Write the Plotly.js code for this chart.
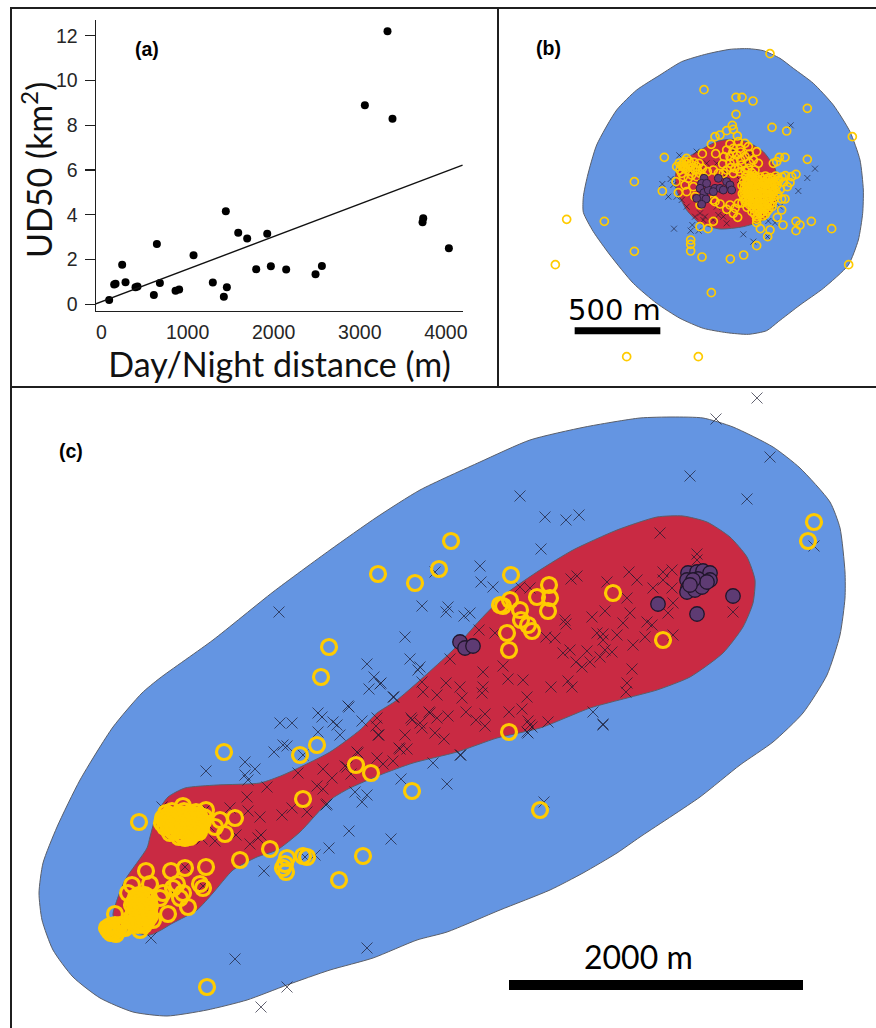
<!DOCTYPE html>
<html>
<head>
<meta charset="utf-8">
<script src="https://cdn.plot.ly/plotly-3.0.1.min.js"></script>
<style>html,body{margin:0;padding:0;background:#fff}#chart{width:876px;height:1028px}</style>
</head>
<body>
<div id="chart"></div>
<script>
// Panel (a): day/night distance (m) vs UD50 (km2)
const distance = [89,147,163,240,279,395,418,608,643,678,860,902,1069,1293,1421,1444,1456,1588,1692,1797,1925,1967,2145,2486,2560,3059,3322,3380,3737,3729,4035];
const ud50 = [0.19,0.89,0.92,1.77,0.98,0.76,0.79,0.42,2.70,0.95,0.60,0.66,2.19,0.97,0.34,4.16,0.76,3.2,2.94,1.57,3.15,1.70,1.55,1.34,1.71,8.9,12.21,8.3,3.85,3.67,2.5];
const fitX = [-66,4194];
const fitY = [0.02,6.22];
const xTicks = [0,1000,2000,3000,4000];
const yTicks = [0,2,4,6,8,10,12];

// Panel (b): map coordinates
const bBlue = [[480,225],[410,270],[350,330],[290,435],[262,530],[250,590],[250,637],[280,695],[330,765],[400,850],[470,910],[540,955],[610,985],[680,998],[745,1003],[800,992],[835,965],[900,915],[970,865],[1045,795],[1075,720],[1088,640],[1090,570],[1080,480],[1050,395],[1000,315],[940,250],[880,205],[840,175],[790,152],[745,146],[690,148],[620,162],[545,185],[480,225]];
const bRed = [[690,418],[740,425],[790,455],[825,505],[835,560],[825,620],[790,660],[730,680],[660,687],[600,670],[560,630],[530,570],[527,520],[560,475],[610,445],[650,425],[690,418]];
const bCross = [[872,376],[945,506],[922,534],[895,573],[522,686],[572,692],[596,692],[577,675],[730,703],[760,725],[805,663],[825,668],[803,710],[487,552],[512,537],[505,590],[538,466],[590,455],[545,600],[560,620],[585,650],[615,650],[640,660],[680,670],[670,650],[600,640],[650,620],[620,490],[600,500],[580,510],[565,510],[650,490],[700,450],[740,490],[750,460],[780,570],[785,600],[820,610],[840,620],[720,540],[680,520],[690,630],[520,555],[530,590],[610,660],[655,645]];
const bYellow = [[810,161],[612,269],[708,292],[726,292],[759,303],[922,325],[708,343],[816,382],[860,393],[1057,410],[697,376],[700,388],[680,392],[712,408],[660,405],[645,410],[493,472],[403,545],[487,573],[200,658],[313,664],[403,754],[166,794],[380,1070],[595,1070],[634,878],[606,771],[572,720],[572,733],[572,753],[691,777],[731,765],[770,737],[803,710],[810,690],[781,686],[770,668],[849,675],[888,664],[900,675],[888,692],[934,664],[995,686],[1046,794],[922,478],[855,472],[838,472],[830,485],[820,490],[888,523],[875,530],[870,548],[862,560],[855,597],[845,597],[845,630],[832,652],[600,680],[624,686],[640,664],[713,652],[647,461],[607,461],[634,433],
[690,432],[715,425],[735,430],[745,440],[770,455],[680,450],[700,445],[720,445],[690,470],[710,465],[735,470],[760,480],[775,490],[690,490],[705,505],[725,495],[745,505],[765,510],[680,510],[700,520],[720,515],[740,525],[755,530],
[698,458],[722,456],[748,462],[702,482],[722,480],[748,488],[692,503],[716,506],[735,512],[755,518],[672,470],[668,492],
[530,500],[545,495],[560,490],[575,495],[590,500],[540,510],[555,505],[570,515],[585,510],[560,475],[600,520],[550,530],[528,545],[555,555],[535,578],[560,575],[580,560],[585,590],[600,615],[645,605],[660,612],[680,628],[610,530],[640,510],[670,520],
[538,489],[552,484],[567,483],[582,487],[597,490],[548,500],[563,498],[578,503],[592,510],[607,505],[622,515],[575,525],[590,530],[565,535],[545,520],[655,520],[640,600],[690,615],[705,625],[715,610],[700,640],
[737,529],[752,533],[764,527],[781,531],[796,528],[811,533],[827,528],[846,531],[856,527],[731,544],[746,541],[761,545],[774,542],[791,546],[806,541],[821,545],[836,542],[851,546],[726,557],[741,554],[756,558],[769,555],[786,559],[801,554],[816,558],[831,556],[736,570],[749,567],[766,571],[779,568],[796,570],[809,568],[826,571],[841,568],[727,581],[741,584],[756,580],[773,584],[786,581],[803,584],[816,581],[833,583],[736,596],[749,593],[766,597],[779,594],[796,596],[811,593],[824,596],[726,609],[743,606],[757,610],[774,607],[787,610],[804,607],[817,609],[741,622],[756,619],[769,623],[786,620],[799,622],[816,620],[756,635],[771,632],[789,636],[802,633],[771,651],[789,648],[770,658],
[744,536],[758,538],[772,536],[788,538],[803,535],[819,537],[834,535],[738,550],[753,550],[764,550],[778,549],[794,552],[809,549],[824,552],[733,563],[744,561],[759,564],[772,562],[789,564],[804,561],[819,564],[732,576],[743,575],[759,575],[771,576],[789,575],[802,577],[819,576],[731,590],[745,589],[760,589],[770,590],[790,588],[806,590],[820,589],[735,603],[747,600],[761,603],[771,601],[791,603],[807,600],[748,614],[763,615],[778,613],[793,615],[809,613],[762,627],[778,627],[792,628],[807,627],[764,642],[780,641],[796,643]];
const bPurple = [[612,535],[605,550],[600,565],[612,578],[605,595],[618,597],[590,595],[605,613],[625,570],[645,565],[660,565],[680,545],[655,535],[690,555],[695,570],[670,570],[640,575],[620,550]];

// Panel (c): map coordinates
const cBlue = [[273,592],[330,550],[377,517],[420,490],[480,462],[530,440],[585,427],[640,418],[673,417],[703,418],[733,427],[773,447],[800,468],[830,502],[840,528],[845,572],[845,598],[840,635],[827,675],[803,713],[773,742],[740,765],[700,797],[640,837],[617,853],[583,873],[550,890],[500,910],[447,932],[417,940],[373,958],[330,970],[287,985],[247,1000],[207,1010],[167,1016],[133,1012],[100,998],[73,977],[53,950],[42,920],[39,893],[43,863],[57,827],[80,780],[113,727],[142,693],[160,678],[213,640],[273,592]];
const cRed = [[573,550],[617,530],[657,517],[683,516],[707,522],[730,537],[747,557],[755,580],[753,603],[743,627],[723,653],[690,677],[657,690],[627,698],[590,708],[540,728],[497,738],[457,752],[413,763],[380,775],[348,789],[330,800],[300,832],[277,850],[257,857],[233,870],[213,893],[197,910],[173,923],[150,935],[120,927],[113,915],[117,900],[125,880],[147,848],[150,837],[157,813],[168,797],[185,788],[217,785],[260,783],[283,775],[330,752],[360,730],[377,713],[397,700],[453,650],[480,620],[507,593],[540,570],[573,550]];
const cCross = [[520,496],[545,517],[566,520],[579,515],[747,499],[541,549],[660,533],[697,554],[480,566],[435,572],[481,582],[493,587],[422,606],[448,607],[446,612],[464,616],[470,613],[405,637],[410,659],[367,664],[420,667],[418,670],[374,677],[381,683],[369,689],[393,697],[349,707],[362,721],[279,612],
[479,630],[495,633],[450,659],[503,666],[483,672],[422,682],[423,692],[446,683],[460,687],[462,698],[437,695],[483,687],[482,693],[508,679],[523,680],[527,697],[551,687],[568,681],[572,687],[627,683],[626,692],[632,669],[582,667],[576,662],[563,653],[570,650],[587,651],[590,662],[600,657],[605,650],[612,652],[603,640],[597,633],[603,634],[617,635],[623,623],[630,613],[633,645],[645,637],[652,625],[647,622],[668,613],[673,603],[673,635],[592,617],[605,611],[565,620],[566,624],[546,637],[555,638],[520,587],[530,588],[571,579],[577,576],[607,582],[629,572],[637,580],[653,588],[663,572],[672,570],[663,580],[672,588],[627,598],[697,560],[733,612],[593,712],[603,724],[548,722],[528,721],[532,727],[528,733],[509,712],[522,709],[485,714],[485,726],[476,720],[466,712],[448,716],[437,718],[429,712],[411,718],[420,723],[435,733],[444,739],[405,735],[379,735],[377,718],[376,726],[399,748],[407,749],[393,761],[377,758],[433,763],[461,755],[357,752],[347,767],
[380,684],[394,697],[348,706],[318,713],[322,717],[333,722],[337,725],[280,723],[292,723],[318,732],[340,735],[283,745],[287,746],[274,752],[303,755],[245,762],[255,769],[245,775],[248,780],[206,771],[378,735],[412,720],[422,728],[430,713],[358,753],[400,749],[345,766],[323,769],[298,773],[332,778],[267,787],[247,797],[317,786],[323,789],[351,774],[401,779],[355,792],[367,795],[362,802],[327,804],[292,808],[282,815],[307,812],[230,808],[248,811],[260,817],[349,831],[391,839],[329,848],[315,855],[305,857],[264,871],[261,835],[258,838],[250,844],[236,835],[215,841],[202,839],[172,834],[209,826],[206,809],[203,812],[162,807],[185,867],[203,886],[173,892],[133,926],[151,938],[235,959],[287,987],[261,1007],[367,948],
[544,802],[603,725],[460,755],[447,784],[326,805],[383,764],[527,732],[530,725],
[757,398],[716,419],[770,457],[690,476],[814,546]];
const cYellow = [[224,752],[139,822],[207,987],[303,799],[300,755],[317,745],[356,765],[371,773],[412,791],[363,856],[339,880],[270,849],[240,860],[287,858],[285,864],[286,872],[283,868],[303,856],[307,857],
[329,647],[321,677],[378,574],[415,583],[451,541],[439,569],[511,575],[503,606],[510,600],[500,605],[520,610],[521,620],[532,631],[528,625],[507,633],[509,650],[537,597],[549,585],[550,598],[548,611],[613,593],[663,640],[509,732],[540,810],[808,541],[814,522],
[235,818],[220,820],[225,834],[215,827],[206,810],[183,806],
[166,813],[172,811],[178,814],[184,811],[190,813],[196,812],[163,818],[168,817],[174,819],[180,816],[186,819],[192,817],[198,819],[204,817],[162,823],[167,822],[173,824],[179,821],[185,824],[191,822],[197,824],[203,822],[165,827],[171,829],[177,826],[183,829],[189,827],[195,829],[201,827],[170,833],[175,831],[181,834],[187,832],[193,834],[199,832],[179,837],[185,838],[190,837],
[169,815],[175,816],[181,814],[187,815],[193,815],[199,815],[165,820],[171,821],[177,822],[183,819],[189,821],[195,820],[201,820],[168,825],[174,826],[180,825],[186,826],[192,825],[198,826],[173,831],[179,830],[185,830],[191,830],[197,831],[182,835],[188,835],
[146,871],[171,871],[185,868],[206,867],[150,884],[200,884],[203,888],[177,884],[163,893],[183,893],[188,907],[168,914],[132,885],[128,893],[115,914],[160,898],[173,888],[180,898],[153,920],[140,930],
[136,897],[142,898],[148,897],[134,902],[140,904],[146,903],[135,908],[141,909],[147,908],[134,914],[140,915],[146,914],[136,920],[142,921],[148,919],[138,925],[144,925],[110,926],[115,925],[109,931],[114,931],[118,929],[113,933],[120,925],[125,928],
[139,895],[145,895],[137,900],[143,901],[149,900],[132,905],[138,906],[144,906],[150,906],[137,911],[143,912],[149,911],[132,917],[138,918],[144,918],[150,916],[133,922],[140,923],[146,922],[112,928],[117,927],[107,928],[111,933],[116,934],[122,928]];
const cPurple = [[733,596],[697,614],[658,604],[460,642],[465,648],[473,646],[688,573],[697,572],[703,571],[710,573],[710,580],[687,580],[698,579],[688,588],[687,592],[695,590],[702,587],[707,582],[693,580],[690,585]];

const xs = p => p.map(d => d[0]);
const ys = p => p.map(d => d[1]);

const BLUE = '#6495E2', RED = '#C92A43', YELLOW = '#FFCB00', PURPLE = '#5E3B73', EDGE = '#5a5f6a';
const CROSS = 'rgba(25,25,45,0.68)', INK = '#1f1f1f';
const W = 876, H = 1028;
const fx = a => [a[0] / W, a[1] / W];
const fy = a => [1 - a[1] / H, 1 - a[0] / H];

const traces = [
  {x: distance, y: ud50, type: 'scatter', mode: 'markers', xaxis: 'x', yaxis: 'y', name: 'Individuals',
   marker: {color: '#000', size: 8}},
  {x: fitX, y: fitY, type: 'scatter', mode: 'lines', xaxis: 'x', yaxis: 'y', name: 'Fit',
   line: {color: '#111', width: 1.4}},

  {x: xs(bBlue), y: ys(bBlue), type: 'scatter', mode: 'lines', fill: 'toself', fillcolor: BLUE, xaxis: 'x2', yaxis: 'y2', name: 'UD95',
   line: {color: EDGE, width: 1, shape: 'spline', smoothing: 0.6}},
  {x: xs(bRed), y: ys(bRed), type: 'scatter', mode: 'lines', fill: 'toself', fillcolor: RED, xaxis: 'x2', yaxis: 'y2', name: 'UD50',
   line: {color: EDGE, width: 1, shape: 'spline', smoothing: 0.6}},
  {x: xs(bCross), y: ys(bCross), type: 'scatter', mode: 'markers', xaxis: 'x2', yaxis: 'y2', name: 'Night',
   marker: {symbol: 'x-thin', size: 6, line: {color: CROSS, width: 0.9}}},
  {x: xs(bYellow), y: ys(bYellow), type: 'scatter', mode: 'markers', xaxis: 'x2', yaxis: 'y2', name: 'Day',
   marker: {symbol: 'circle-open', color: YELLOW, size: 8, line: {color: YELLOW, width: 1.7}}},
  {x: xs(bPurple), y: ys(bPurple), type: 'scatter', mode: 'markers', xaxis: 'x2', yaxis: 'y2', name: 'Roost',
   marker: {color: PURPLE, size: 8, line: {color: '#241830', width: 0.8}}},

  {x: xs(cBlue), y: ys(cBlue), type: 'scatter', mode: 'lines', fill: 'toself', fillcolor: BLUE, xaxis: 'x3', yaxis: 'y3', name: 'UD95',
   line: {color: EDGE, width: 1, shape: 'spline', smoothing: 0.6}},
  {x: xs(cRed), y: ys(cRed), type: 'scatter', mode: 'lines', fill: 'toself', fillcolor: RED, xaxis: 'x3', yaxis: 'y3', name: 'UD50',
   line: {color: EDGE, width: 1, shape: 'spline', smoothing: 0.6}},
  {x: xs(cCross), y: ys(cCross), type: 'scatter', mode: 'markers', xaxis: 'x3', yaxis: 'y3', name: 'Night',
   marker: {symbol: 'x-thin', size: 11, line: {color: CROSS, width: 1}}},
  {x: xs(cYellow), y: ys(cYellow), type: 'scatter', mode: 'markers', xaxis: 'x3', yaxis: 'y3', name: 'Day',
   marker: {symbol: 'circle-open', color: YELLOW, size: 15, line: {color: YELLOW, width: 3.2}}},
  {x: xs(cPurple), y: ys(cPurple), type: 'scatter', mode: 'markers', xaxis: 'x3', yaxis: 'y3', name: 'Roost',
   marker: {color: PURPLE, size: 14.5, line: {color: '#21162c', width: 1.3}}}
];

const hidden = {visible: false, fixedrange: true};
const bar = (x0, x1, y0, y1, xr, yr) => ({type: 'rect', xref: xr, yref: yr, x0, x1, y0, y1, fillcolor: '#000', line: {width: 0}});
const rule = (x0, y0, x1, y1) => ({type: 'line', xref: 'paper', yref: 'paper', x0: x0 / W, x1: x1 / W, y0: 1 - y0 / H, y1: 1 - y1 / H, line: {color: INK, width: 2}});
const panelLabel = (text, px, py) => ({text, xref: 'paper', yref: 'paper', x: px / W, y: 1 - py / H, xanchor: 'center', yanchor: 'middle', showarrow: false, font: {family: 'Liberation Sans', size: 19.5, color: '#000', weight: 700}});

const layout = {
  width: W, height: H, autosize: false, showlegend: false,
  margin: {l: 0, r: 0, t: 0, b: 0, pad: 0},
  paper_bgcolor: '#fff', plot_bgcolor: 'rgba(0,0,0,0)',
  hovermode: false,
  xaxis: {domain: fx([96, 463]), range: [-64, 4199], anchor: 'y', tickvals: xTicks, ticks: '', showgrid: false, zeroline: false,
    showline: true, linecolor: INK, linewidth: 1.4, tickfont: {family: 'Liberation Sans', size: 19.5, color: '#262626'}, ticklabelstandoff: 3,
    title: {text: 'Day/Night distance (m)', font: {family: 'Lato', size: 34, color: '#111'}, standoff: 2}},
  yaxis: {domain: fy([20, 311]), range: [-0.3, 12.71], anchor: 'x', tickvals: yTicks, ticks: 'outside', ticklen: 10, tickcolor: INK, tickwidth: 1.2, showgrid: false, zeroline: false,
    showline: true, linecolor: INK, linewidth: 1.4, tickfont: {family: 'Liberation Sans', size: 19.5, color: '#262626'}, ticklabelstandoff: 3},
  xaxis2: Object.assign({domain: fx([500, 876]), range: [0, 1128], anchor: 'y2'}, hidden),
  yaxis2: Object.assign({domain: fy([0, 390]), range: [1170, 0], anchor: 'x2'}, hidden),
  xaxis3: Object.assign({domain: fx([0, 876]), range: [0, 876], anchor: 'y3'}, hidden),
  yaxis3: Object.assign({domain: fy([390, 1028]), range: [1028, 390], anchor: 'x3'}, hidden),
  shapes: [
    rule(10, 8, 876, 8), rule(11, 8, 11, 1028), rule(498, 8, 498, 387), rule(10, 387, 876, 387),
    bar(224, 481, 982, 1003, 'x2', 'y2'),
    bar(509, 803, 980, 990, 'x3', 'y3')
  ],
  annotations: [
    panelLabel('(a)', 147, 49), panelLabel('(b)', 548, 48), panelLabel('(c)', 71, 451),
    {text: 'UD50 (km<sup>2</sup>)', xref: 'paper', yref: 'paper', x: 37 / W, y: 1 - 170 / H, xanchor: 'center', yanchor: 'middle', textangle: -90, showarrow: false, font: {family: 'Lato', size: 34, color: '#111'}},
    {text: '500 m', xref: 'x2', yref: 'y2', x: 343, y: 930, xanchor: 'center', yanchor: 'middle', showarrow: false, font: {family: 'DejaVu Sans', size: 29, color: '#000'}},
    {text: '2000 m', xref: 'x3', yref: 'y3', x: 638, y: 956, xanchor: 'center', yanchor: 'middle', showarrow: false, font: {family: 'Lato', size: 32, color: '#000'}}
  ]
};

Plotly.newPlot('chart', traces, layout, {displayModeBar: false, staticPlot: true});
</script>
</body>
</html>
